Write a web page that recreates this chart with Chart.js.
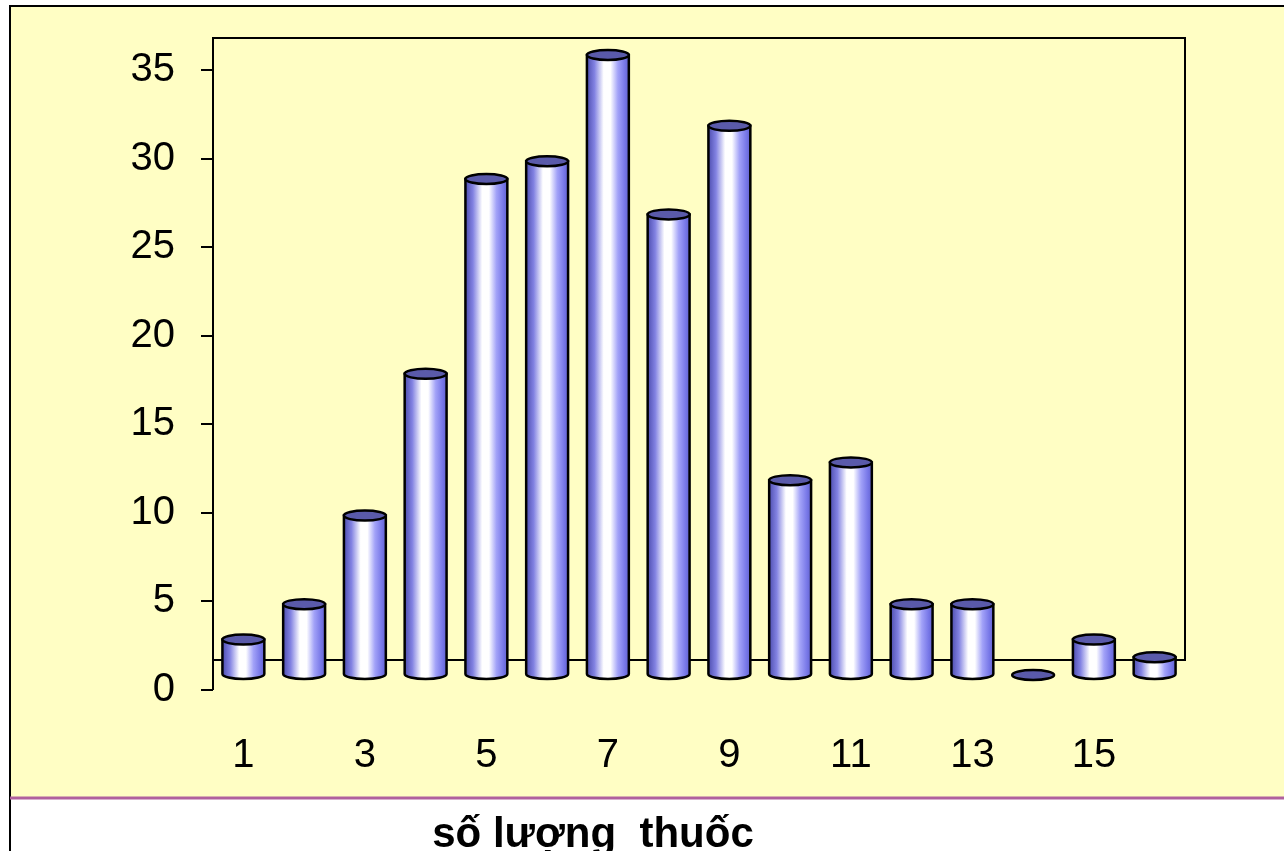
<!DOCTYPE html>
<html>
<head>
<meta charset="utf-8">
<script src="https://cdn.jsdelivr.net/npm/chart.js@4/dist/chart.umd.min.js"></script>
<style>
  html, body { margin: 0; padding: 0; background: #fff; }
  #wrap { width: 1284px; height: 851px; }
</style>
</head>
<body>
<div id="wrap"><canvas id="chart" width="1284" height="851"></canvas></div>
<script>
// data
const categories = ['1','2','3','4','5','6','7','8','9','10','11','12','13','14','15','16'];
const counts = [2, 4, 9, 17, 28, 29, 35, 26, 31, 11, 12, 4, 4, 0, 2, 1];
const yTicks = [0, 5, 10, 15, 20, 25, 30, 35];
const xTitle = 'số lượng  thuốc';

const DEPTH = 30; // 3d floor depth in px

// yellow panel, borders, back wall and title
const framePlugin = {
    id: 'frame',
    beforeDraw(chart) {
        const ctx = chart.ctx;
        ctx.save();
        ctx.fillStyle = '#ffffff';
        ctx.fillRect(0, 0, chart.width, chart.height);
        ctx.fillStyle = '#FFFEC4';
        ctx.fillRect(10, 6, chart.width - 10, 792);
        ctx.strokeStyle = '#000';
        ctx.lineWidth = 2;
        ctx.beginPath();
        ctx.moveTo(10, chart.height);
        ctx.lineTo(10, 6);
        ctx.lineTo(chart.width, 6);
        ctx.stroke();
        ctx.strokeStyle = '#B0609E';
        ctx.lineWidth = 3;
        ctx.beginPath();
        ctx.moveTo(10, 798);
        ctx.lineTo(chart.width, 798);
        ctx.stroke();

        ctx.fillStyle = '#000';
        ctx.font = 'bold 42px "Liberation Sans", Arial, sans-serif';
        ctx.textAlign = 'center';
        ctx.textBaseline = 'alphabetic';
        ctx.fillText(xTitle, 593, 847);
        ctx.restore();
    },
    beforeDatasetsDraw(chart) {
        const { ctx, chartArea } = chart;
        const l = chartArea.left, r = chartArea.right;
        const top = chartArea.top - DEPTH - 2, floor = chartArea.bottom - DEPTH;
        ctx.save();
        ctx.strokeStyle = '#000';
        ctx.lineWidth = 2;
        ctx.beginPath();
        ctx.moveTo(l, chartArea.bottom);
        ctx.lineTo(l, top);
        ctx.lineTo(r, top);
        ctx.lineTo(r, floor);
        ctx.lineTo(l, floor);
        ctx.stroke();
        ctx.restore();
    }
};

// draws each bar as a cylinder at its own scale position
const cylinderPlugin = {
    id: 'cylinders',
    afterDatasetsDraw(chart) {
        const ctx = chart.ctx;
        const meta = chart.getDatasetMeta(0);
        const shift = DEPTH / 2;
        meta.data.forEach(bar => {
            const w = bar.width;
            const x0 = bar.x - w / 2, x1 = bar.x + w / 2;
            const yt = bar.y - shift, yb = bar.base - shift;
            const rx = w / 2, ry = 5;

            const g = ctx.createLinearGradient(x0, 0, x1, 0);
            g.addColorStop(0, '#4E4EB0');
            g.addColorStop(0.18, '#8282E2');
            g.addColorStop(0.4, '#FFFFFF');
            g.addColorStop(0.56, '#FFFFFF');
            g.addColorStop(0.74, '#A2A2F8');
            g.addColorStop(0.9, '#7878E8');
            g.addColorStop(1, '#6262D0');

            ctx.save();
            ctx.lineWidth = 2.5;
            ctx.strokeStyle = '#000';
            if (yb - yt > 0.5) {
                ctx.beginPath();
                ctx.moveTo(x0, yt);
                ctx.lineTo(x0, yb);
                ctx.ellipse(bar.x, yb, rx, ry, 0, Math.PI, 0, true);
                ctx.lineTo(x1, yt);
                ctx.closePath();
                ctx.fillStyle = g;
                ctx.fill();
                ctx.stroke();
            }
            ctx.beginPath();
            ctx.ellipse(bar.x, yt, rx, ry, 0, 0, Math.PI * 2);
            ctx.fillStyle = '#5A5AAA';
            ctx.fill();
            ctx.stroke();
            ctx.restore();
        });
    }
};

new Chart(document.getElementById('chart'), {
    type: 'bar',
    data: {
        labels: categories,
        datasets: [{
            data: counts,
            backgroundColor: 'rgba(0,0,0,0)',
            borderWidth: 0,
            categoryPercentage: 1,
            barPercentage: 0.69
        }]
    },
    options: {
        responsive: false,
        animation: false,
        events: [],
        layout: { padding: { top: 70, right: 99, left: 0, bottom: 0 } },
        plugins: {
            legend: { display: false },
            tooltip: { enabled: false }
        },
        scales: {
            x: {
                grid: { display: false },
                border: { display: false },
                afterFit(scale) { scale.height = 161; },
                ticks: {
                    autoSkip: false,
                    maxRotation: 0,
                    padding: 34,
                    color: '#000',
                    font: { family: '"Liberation Sans", Arial, sans-serif', size: 40 },
                    callback: (val, i) => (i % 2 === 0 ? categories[i] : '')
                }
            },
            y: {
                min: 0,
                max: 35,
                afterBuildTicks(scale) { scale.ticks = yTicks.map(v => ({ value: v })); },
                afterFit(scale) { scale.width = 213; },
                grid: {
                    drawOnChartArea: false,
                    tickLength: 12,
                    color: '#000',
                    lineWidth: 2
                },
                border: { display: false },
                ticks: {
                    padding: 26,
                    color: '#000',
                    font: { family: '"Liberation Sans", Arial, sans-serif', size: 40 }
                }
            }
        }
    },
    plugins: [framePlugin, cylinderPlugin]
});
</script>
</body>
</html>
